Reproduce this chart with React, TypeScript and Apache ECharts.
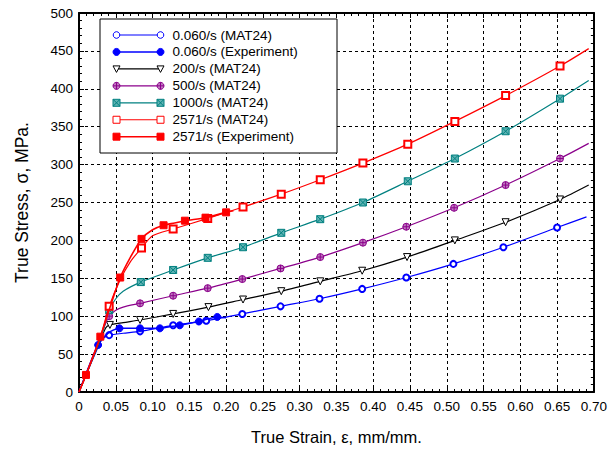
import React, { useEffect, useRef } from "react";
import * as echarts from "echarts";

// ---- data (strain mm/mm, stress MPa); marks = 1 where a marker is drawn ----
const blueModelPts = [[0,0],[0.03,68],[0.036,73],[0.041,75],[0.06,77.5],[0.083,80],[0.128,88],[0.173,94],[0.222,103],[0.274,113],[0.327,123],[0.385,136],[0.445,151],[0.509,169],[0.577,191],[0.65,217],[0.69,231]];
const blueModelMarks = [0,0,0,1,0,1,1,1,1,1,1,1,1,1,1,1,0];

const blueExpPts = [[0,0],[0.026,62],[0.04,78],[0.055,84],[0.07,84],[0.083,84],[0.11,84],[0.123,86],[0.137,88],[0.163,93],[0.188,99],[0.2,98]];
const blueExpMarks = [0,1,0,1,0,1,1,0,1,1,1,0];

const blackPts = [[0,0],[0.036,84],[0.042,88.5],[0.06,91.5],[0.083,95],[0.128,103],[0.176,112],[0.223,122],[0.275,133],[0.328,146],[0.385,160],[0.446,178],[0.511,200],[0.58,224],[0.654,254],[0.693,273]];
const blackMarks = [0,0,1,0,1,1,1,1,1,1,1,1,1,1,1,0];

const purplePts = [[0,0],[0.036,90],[0.041,100],[0.05,108],[0.06,112],[0.083,117],[0.128,127],[0.175,137],[0.222,149],[0.274,163],[0.328,178],[0.386,197],[0.445,218],[0.51,243],[0.58,273],[0.654,308],[0.693,328]];
const purpleMarks = [0,0,1,0,0,1,1,1,1,1,1,1,1,1,1,1,0];

const tealPts = [[0,0],[0.03,72],[0.037,96],[0.041,108],[0.05,123],[0.06,133],[0.084,145],[0.128,161],[0.175,177],[0.223,191],[0.275,210],[0.328,228],[0.386,250],[0.447,278],[0.511,308],[0.58,344],[0.654,387],[0.693,411]];
const tealMarks = [0,0,0,1,0,0,1,1,1,1,1,1,1,1,1,1,1,0];

const redModelPts = [[0,0],[0.01,23],[0.029,72],[0.041,113],[0.056,148],[0.07,172],[0.085,190],[0.1,206],[0.128,215],[0.175,229],[0.223,244],[0.275,261],[0.328,280],[0.386,302],[0.447,327],[0.511,357],[0.58,391],[0.654,430],[0.693,453]];
const redModelMarks = [0,0,0,1,0,0,1,0,1,1,1,1,1,1,1,1,1,1,0];

const redExpPts = [[0,0],[0.0095,22.5],[0.029,73],[0.045,120],[0.056,151],[0.07,178],[0.085,202],[0.1,214],[0.115,220],[0.13,223],[0.144,226],[0.172,230],[0.2,237],[0.21,239]];
const redExpMarks = [0,1,1,0,1,0,1,0,1,0,1,1,1,0];

const seriesNames = ["0.060/s (MAT24)", "0.060/s (Experiment)", "200/s (MAT24)", "500/s (MAT24)", "1000/s (MAT24)", "2571/s (MAT24)", "2571/s (Experiment)"];

const BLUE = "#0000ff";
const BLACK = "#000000";
const PURPLE = "#8b008b";
const TEAL = "#008080";
const RED = "#ff0000";

const FONT = "'Liberation Sans', Arial, Helvetica, sans-serif";

const circlePlus = "path://M0,-5A5,5,0,1,1,0,5A5,5,0,1,1,0,-5ZM-5,0L5,0M0,-5L0,5";
const squareX = "path://M-5,-5L5,-5L5,5L-5,5ZM-5,-5L5,5M5,-5L-5,5";
const triDown = "path://M-5,-4L5,-4L0,5Z";

type Style = {
  kind: string;
  color: string;
  fill: string;
  symbol: string;
  size: number;
  width: number;
};

const styles: Style[] = [
  { kind: "ocircle", color: BLUE, fill: "#ffffff", symbol: "emptyCircle", size: 6, width: 1.2 },
  { kind: "fcircle", color: BLUE, fill: BLUE, symbol: "circle", size: 7, width: 1.5 },
  { kind: "tri", color: BLACK, fill: "#ffffff", symbol: triDown, size: 7, width: 1.2 },
  { kind: "cplus", color: PURPLE, fill: "#c07ac0", symbol: circlePlus, size: 7, width: 1.2 },
  { kind: "sqx", color: TEAL, fill: "#5fb3b3", symbol: squareX, size: 7, width: 1.2 },
  { kind: "osq", color: RED, fill: "#ffffff", symbol: "emptyRect", size: 7, width: 1.2 },
  { kind: "fsq", color: RED, fill: RED, symbol: "rect", size: 7, width: 1.6 },
];

const allPts = [blueModelPts, blueExpPts, blackPts, purplePts, tealPts, redModelPts, redExpPts];
const allMarks = [blueModelMarks, blueExpMarks, blackMarks, purpleMarks, tealMarks, redModelMarks, redExpMarks];

function legendMarker(st: Style, cx: number, cy: number): any[] {
  const r = 3.3;
  const stroke = { stroke: st.color, lineWidth: 1 };
  switch (st.kind) {
    case "ocircle":
      return [{ type: "circle", shape: { cx, cy, r }, style: { fill: "#fff", ...stroke } }];
    case "fcircle":
      return [{ type: "circle", shape: { cx, cy, r: 3.5 }, style: { fill: st.color, ...stroke } }];
    case "tri":
      return [{ type: "polygon", shape: { points: [[cx - 3.5, cy - 3], [cx + 3.5, cy - 3], [cx, cy + 3.5]] }, style: { fill: "#fff", ...stroke } }];
    case "cplus":
      return [
        { type: "circle", shape: { cx, cy, r: 3.5 }, style: { fill: st.fill, ...stroke } },
        { type: "line", shape: { x1: cx - 3.5, y1: cy, x2: cx + 3.5, y2: cy }, style: stroke },
        { type: "line", shape: { x1: cx, y1: cy - 3.5, x2: cx, y2: cy + 3.5 }, style: stroke },
      ];
    case "sqx":
      return [
        { type: "rect", shape: { x: cx - 3.5, y: cy - 3.5, width: 7, height: 7 }, style: { fill: st.fill, ...stroke } },
        { type: "line", shape: { x1: cx - 3.5, y1: cy - 3.5, x2: cx + 3.5, y2: cy + 3.5 }, style: stroke },
        { type: "line", shape: { x1: cx + 3.5, y1: cy - 3.5, x2: cx - 3.5, y2: cy + 3.5 }, style: stroke },
      ];
    case "osq":
      return [{ type: "rect", shape: { x: cx - 3.5, y: cy - 3.5, width: 7, height: 7 }, style: { fill: "#fff", ...stroke } }];
    default:
      return [{ type: "rect", shape: { x: cx - 3.5, y: cy - 3.5, width: 7, height: 7 }, style: { fill: st.color, ...stroke } }];
  }
}

export default function App() {
  const ref = useRef<HTMLDivElement>(null);
  useEffect(() => {
    if (!ref.current) return;
    const chart = echarts.init(ref.current, null, { renderer: "svg" });

    const series = allPts.map((pts, i) => {
      const st = styles[i];
      return {
        name: seriesNames[i],
        type: "line",
        xAxisIndex: 0,
        yAxisIndex: 0,
        smooth: 0.25,
        symbol: st.symbol,
        symbolSize: st.size,
        showSymbol: true,
        z: 3 + i,
        lineStyle: { color: st.color, width: st.width },
        itemStyle: { color: st.kind === "ocircle" || st.kind === "osq" || st.kind === "fcircle" || st.kind === "fsq" ? st.color : st.fill, borderColor: st.color, borderWidth: 1 },
        data: pts.map((p, j) => (allMarks[i][j] ? { value: p } : { value: p, symbol: "none" })),
      };
    });

    const lx = 100, ly = 19, lw = 237, lh = 134;
    const rowY0 = 35, rowStep = 16.95;
    const legendEls: any[] = [
      { type: "rect", z: 100, shape: { x: lx, y: ly, width: lw, height: lh }, style: { fill: "#fff", stroke: "#000", lineWidth: 1 } },
    ];
    styles.forEach((st, i) => {
      const y = rowY0 + i * rowStep;
      legendEls.push({ type: "line", z: 101, shape: { x1: 116.5, y1: y, x2: 160.5, y2: y }, style: { stroke: st.color, lineWidth: st.width } });
      legendMarker(st, 116.5, y).forEach((e) => legendEls.push({ ...e, z: 102 }));
      legendMarker(st, 160.5, y).forEach((e) => legendEls.push({ ...e, z: 102 }));
      legendEls.push({ type: "text", z: 102, x: 172.5, y, style: { text: seriesNames[i], fill: "#000", font: `13.5px ${FONT}`, verticalAlign: "middle", align: "left" } });
    });

    const axisCommon = {
      axisLine: { show: true, onZero: false, lineStyle: { color: "#000", width: 2 } },
      axisTick: { show: true, inside: true, length: 5, lineStyle: { color: "#000" } },
      minorTick: { show: true, splitNumber: 5, length: 3, lineStyle: { color: "#000" } },
    };

    chart.setOption({
      animation: false,
      backgroundColor: "#fff",
      textStyle: { fontFamily: FONT },
      grid: { left: 79, right: 16, top: 13, bottom: 58, containLabel: false },
      xAxis: [
        {
          type: "value", min: 0, max: 0.7, interval: 0.05, position: "bottom",
          ...axisCommon,
          axisLabel: { color: "#000", fontSize: 13.5, fontFamily: FONT, margin: 7, formatter: (v: number) => (v === 0 ? "0" : v.toFixed(2)) },
          splitLine: { show: true, lineStyle: { color: "#000", type: [3, 3], width: 1 } },
          name: "True Strain, ε, mm/mm.", nameLocation: "middle", nameGap: 36,
          nameTextStyle: { color: "#000", fontSize: 16.5, fontFamily: FONT },
        },
        {
          type: "value", min: 0, max: 0.7, interval: 0.05, position: "top",
          ...axisCommon,
          axisLabel: { show: false }, splitLine: { show: false },
        },
      ],
      yAxis: [
        {
          type: "value", min: 0, max: 500, interval: 50, position: "left",
          ...axisCommon,
          axisLabel: { color: "#000", fontSize: 13.5, fontFamily: FONT, margin: 6 },
          splitLine: { show: true, lineStyle: { color: "#000", type: [3, 3], width: 1 } },
          name: "True Stress, σ, MPa.", nameLocation: "middle", nameGap: 48,
          nameTextStyle: { color: "#000", fontSize: 17.5, fontFamily: FONT },
        },
        {
          type: "value", min: 0, max: 500, interval: 50, position: "right",
          ...axisCommon,
          axisLabel: { show: false }, splitLine: { show: false },
        },
      ],
      series,
      graphic: legendEls,
    });
    return () => chart.dispose();
  }, []);
  return <div ref={ref} style={{ width: 610, height: 450, position: "absolute", left: 0, top: 0 }} />;
}
